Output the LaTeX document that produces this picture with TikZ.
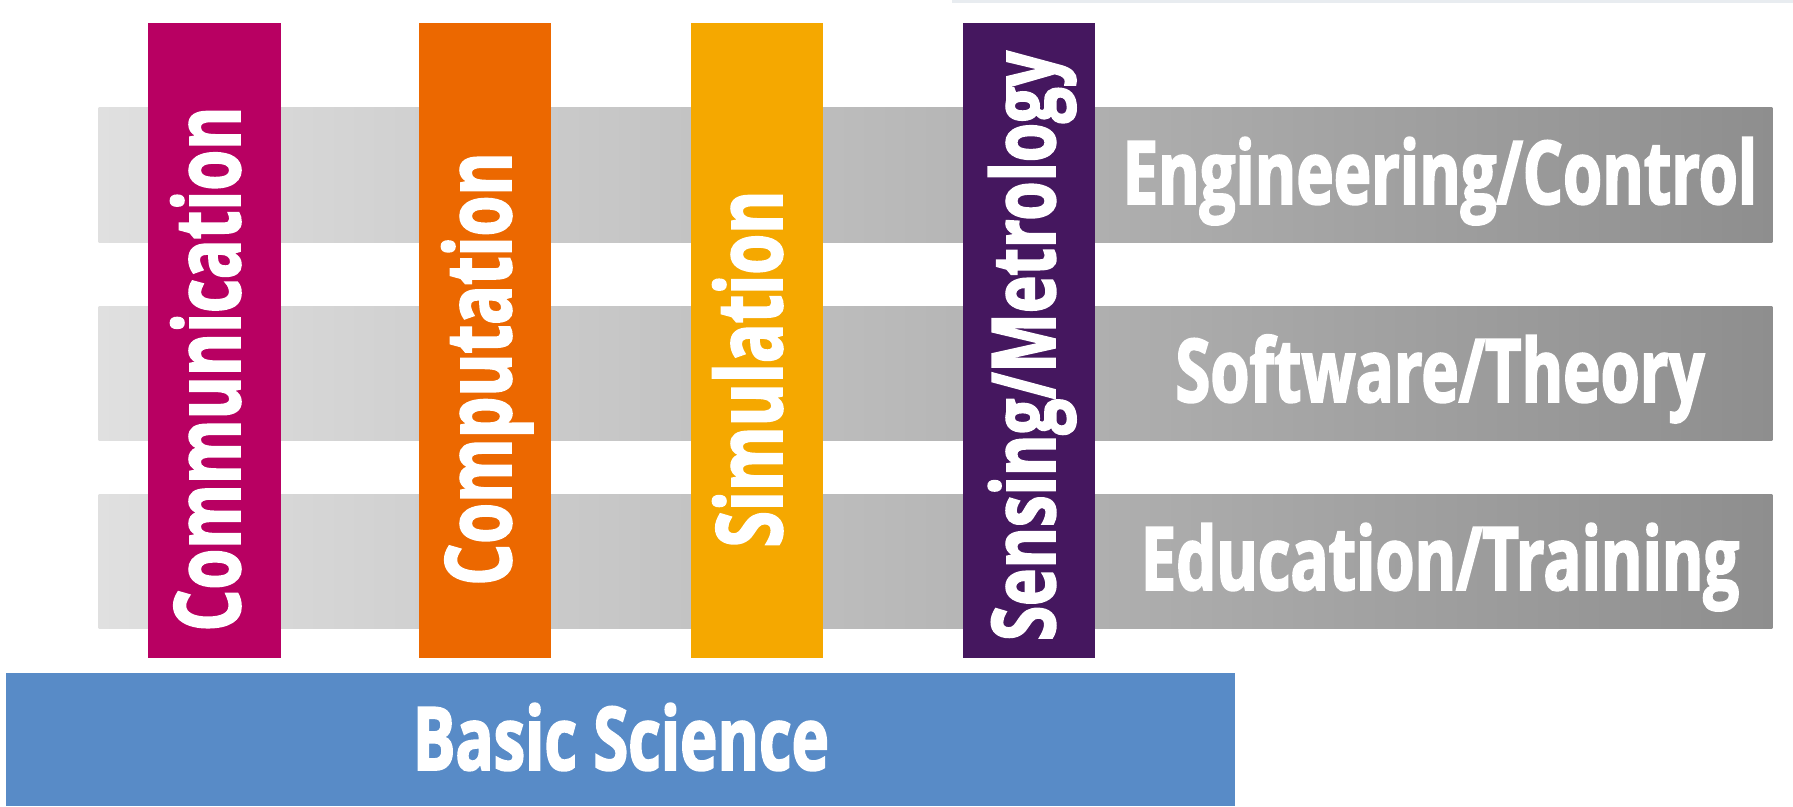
\documentclass[tikz,border=0pt]{standalone}
\usepackage{fontspec}
\setmainfont{Open Sans}[FakeStretch=0.72, BoldFeatures={FakeBold=2}]
\usetikzlibrary{positioning}

\definecolor{commcol}{RGB}{184,0,98}
\definecolor{compcol}{RGB}{236,104,0}
\definecolor{simcol}{RGB}{245,168,0}
\definecolor{senscol}{RGB}{69,23,95}
\definecolor{basecol}{RGB}{88,139,199}
\definecolor{layerleft}{RGB}{224,224,224}
\definecolor{layerright}{RGB}{142,142,142}
\definecolor{edgecol}{RGB}{232,236,240}

\begin{document}
\begin{tikzpicture}[x=0.01cm, y=-0.01cm,
    layer/.style={rectangle, inner sep=0pt, minimum width=16.73cm, minimum height=1.34cm,
        left color=layerleft, right color=layerright},
    pillar/.style={rectangle, inner sep=0pt, minimum width=1.32cm, minimum height=6.35cm},
    whitetext/.style={text=white, inner sep=0pt, anchor=base, font=\bfseries\fontsize{25}{30}\selectfont},
    uptext/.style={whitetext, rotate=90, font=\bfseries\fontsize{26}{30}\selectfont}]
    \useasboundingbox (0,0) rectangle (1793,807);

    % faint rule at the top edge
    \fill[edgecol] (952,0) rectangle (1793,3);

    % horizontal layers
    \node[layer] (engbar) at (935.5,175) {};
    \node[layer] (softbar) at (935.5,373.5) {};
    \node[layer] (edubar) at (935.5,561.5) {};

    % vertical pillars
    \node[pillar, fill=commcol] (commbar) at (214.5,340.5) {};
    \node[pillar, fill=compcol] (compbar) at (485,340.5) {};
    \node[pillar, fill=simcol] (simbar) at (757,340.5) {};
    \node[pillar, fill=senscol] (sensbar) at (1029,340.5) {};

    \node[uptext] (comm) at (240,369) {Communication};
    \node[uptext] (comp) at (511,369) {Computation};
    \node[uptext] (sim) at (782,369) {Simulation};
    \node[uptext, font=\bfseries\fontsize{25}{30}\selectfont] (sens) at (1055,346) {Sensing/Metrology};

    % layer labels
    \node[whitetext] (eng) at (1440,204) {Engineering/Control};
    \node[whitetext] (soft) at (1440,402) {Software/Theory};
    \node[whitetext] (edu) at (1440,590) {Education/Training};

    % foundation
    \node[rectangle, inner sep=0pt, minimum width=12.29cm, minimum height=1.33cm, fill=basecol] (basebar) at (620.5,739.5) {};
    \node[whitetext] (basic) at (621,770) {Basic Science};
\end{tikzpicture}
\end{document}
